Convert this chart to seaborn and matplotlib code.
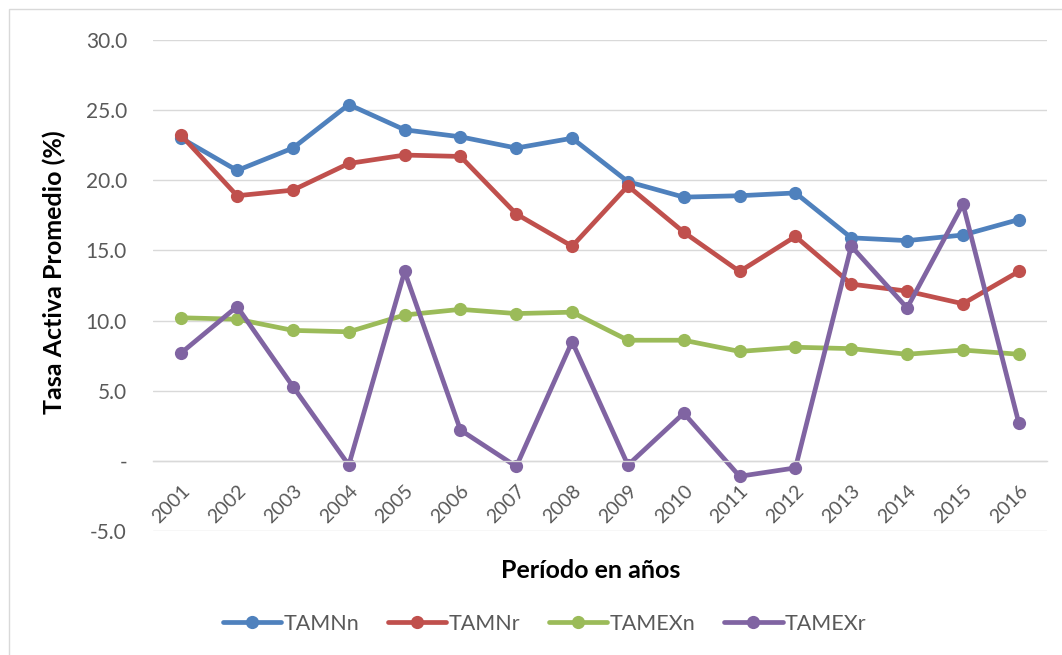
import matplotlib
matplotlib.use("Agg")
import matplotlib.pyplot as plt
from matplotlib.lines import Line2D
from matplotlib.patches import Rectangle
from matplotlib.ticker import FuncFormatter, FixedLocator
import numpy as np
import pandas as pd
import seaborn as sns

years = ["2001", "2002", "2003", "2004", "2005", "2006", "2007", "2008",
         "2009", "2010", "2011", "2012", "2013", "2014", "2015", "2016"]
tamn_n = [23.0, 20.7, 22.3, 25.4, 23.6, 23.1, 22.3, 23.0,
          19.9, 18.8, 18.9, 19.1, 15.9, 15.7, 16.1, 17.2]
tamn_r = [23.2, 18.9, 19.3, 21.2, 21.8, 21.7, 17.6, 15.3,
          19.6, 16.3, 13.5, 16.0, 12.6, 12.1, 11.2, 13.5]
tamex_n = [10.2, 10.1, 9.3, 9.2, 10.4, 10.8, 10.5, 10.6,
           8.6, 8.6, 7.8, 8.1, 8.0, 7.6, 7.9, 7.6]
tamex_r = [7.7, 11.0, 5.3, -0.3, 13.5, 2.2, -0.4, 8.5,
           -0.3, 3.4, -1.1, -0.5, 15.3, 10.9, 18.3, 2.7]
series_names = ["TAMNn", "TAMNr", "TAMEXn", "TAMEXr"]
colors = ["#4F81BD", "#C0504D", "#9BBB59", "#8064A2"]

sns.set_theme(style="white")
plt.rcParams["font.family"] = ["Lato", "DejaVu Sans"]

rows = []
for name, vals in zip(series_names, [tamn_n, tamn_r, tamex_n, tamex_r]):
    for i, v in enumerate(vals):
        rows.append({"idx": i, "val": v, "serie": name})
df = pd.DataFrame(rows)

fig = plt.figure(figsize=(10.62, 6.55), dpi=100)
ax = fig.add_axes([0.1444, 0.1893, 0.8412, 0.7496])

lw = 3.4
ms = 9.5
sns.lineplot(data=df, x="idx", y="val", hue="serie", hue_order=series_names,
             palette=colors, marker="o", markersize=ms, linewidth=lw,
             markeredgewidth=0, sort=False, legend=False, ax=ax)

n = len(years)
ax.set_xlim(-0.5, n - 0.5)
ax.set_ylim(-5, 30)
ax.set_yticks(np.arange(-5, 31, 5))
ax.yaxis.set_major_formatter(FuncFormatter(lambda v, p: "-" if abs(v) < 1e-9 else f"{v:.1f}"))
ax.grid(axis="y", color="#D9D9D9", linewidth=1.0)
ax.set_axisbelow(True)

for s in ["left", "right", "top"]:
    ax.spines[s].set_visible(False)
ax.spines["bottom"].set_position(("data", 0))
ax.spines["bottom"].set_color("#D9D9D9")
ax.spines["bottom"].set_linewidth(1.0)

ax.set_xticks(range(n))
ax.set_xticklabels(years)
ax.xaxis.set_minor_locator(FixedLocator(np.arange(-0.5, n, 1.0)))
ax.tick_params(axis="x", which="major", length=0, pad=15, labelsize=14, labelcolor="#595959")
ax.tick_params(axis="x", which="minor", length=4.5, width=1.0, color="#D9D9D9", direction="out")
for lab in ax.get_xticklabels():
    lab.set_rotation(45)
    lab.set_ha("right")
    lab.set_rotation_mode("anchor")
ax.tick_params(axis="y", length=0, pad=19, labelsize=15, labelcolor="#595959")

ax.set_xlabel("")
ax.set_ylabel("")
fig.text(0.051, 1 - 272 / 655, "Tasa Activa Promedio (%)", rotation=90, ha="center", va="center",
         fontsize=18, fontweight="bold", color="black")
fig.text(0.556, 1 - 570 / 655, "Período en años", ha="center", va="center",
         fontsize=18, fontweight="bold", color="black")

handles = [Line2D([0], [0], color=c, linewidth=lw, marker="o", markersize=ms,
                  markeredgewidth=0) for c in colors]
leg = fig.legend(handles, series_names, loc="center", bbox_to_anchor=(0.513, 1 - 624 / 655),
                 ncol=4, frameon=False, fontsize=15.5, handlelength=2.7,
                 handletextpad=0.1, columnspacing=1.35)
for t in leg.get_texts():
    t.set_color("#595959")

fig.patches.append(Rectangle((9 / 1062, -0.05), 1.2, 1 - 9 / 655 + 0.05,
                             transform=fig.transFigure, fill=False,
                             edgecolor="#D9D9D9", linewidth=1.0))

fig.savefig("out.png", dpi=100, facecolor="white")
